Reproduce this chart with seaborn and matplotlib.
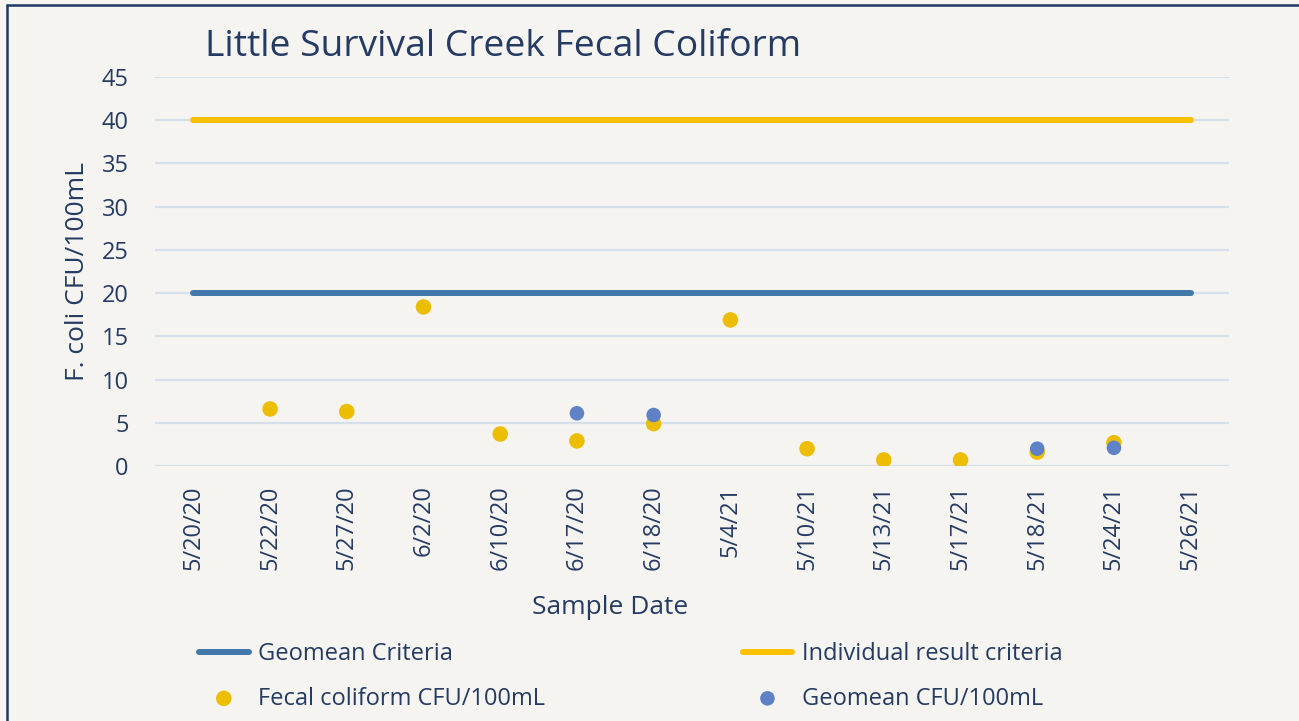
import numpy as np
import pandas as pd
import matplotlib
matplotlib.use("Agg")
import matplotlib.pyplot as plt
from matplotlib.lines import Line2D
import seaborn as sns

dates = ["5/20/20", "5/22/20", "5/27/20", "6/2/20", "6/10/20", "6/17/20", "6/18/20",
         "5/4/21", "5/10/21", "5/13/21", "5/17/21", "5/18/21", "5/24/21", "5/26/21"]
geomean_criteria = [20] * 14
individual_criteria = [40] * 14
fecal = [np.nan, 6.6, 6.3, 18.4, 3.7, 2.9, 4.9, 16.9, 2.0, 0.7, 0.7, 1.6, 2.7, np.nan]
geomean = [np.nan, np.nan, np.nan, np.nan, np.nan, 6.1, 5.9, np.nan, np.nan, np.nan, np.nan, 2.0, 2.1, np.nan]

df = pd.DataFrame({"date": dates, "geo_crit": geomean_criteria, "ind_crit": individual_criteria,
                   "fecal": fecal, "geomean": geomean})

BG = "#F5F4F0"
NAVY = "#253B63"
sns.set_theme(style="white")
plt.rcParams["font.family"] = ["Open Sans", "DejaVu Sans"]

fig = plt.figure(figsize=(12.99, 7.21), dpi=100, facecolor=BG)
W, H = 1299, 721
ax = fig.add_axes([155 / W, 1 - 466 / H, (1229 - 155) / W, (466 - 77) / H])
ax.set_facecolor(BG)

sns.lineplot(data=df, x="date", y="geo_crit", ax=ax, sort=False, color="#4177A9",
             linewidth=4.3, solid_capstyle="round", label="Geomean Criteria", zorder=3)
sns.lineplot(data=df, x="date", y="ind_crit", ax=ax, sort=False, color="#FFC000",
             linewidth=4.3, solid_capstyle="round", label="Individual result criteria", zorder=3)
sns.scatterplot(data=df, x="date", y="fecal", ax=ax, color="#EDBE00", s=125,
                edgecolor="none", label="Fecal coliform CFU/100mL", zorder=4)
sns.scatterplot(data=df, x="date", y="geomean", ax=ax, color="#5F82C6", s=110,
                edgecolor="none", label="Geomean CFU/100mL", zorder=5)

ax.set_xlim(-0.5, len(dates) - 0.5)
ax.set_ylim(0, 45)
ax.set_yticks(range(0, 46, 5))
ax.set_xticks(range(len(dates)))
ax.set_xticklabels(dates, rotation=90)
ax.grid(axis="y", color="#D6DFEC", linewidth=1.6)
ax.grid(axis="x", visible=False)
ax.set_axisbelow(True)
for s in ax.spines.values():
    s.set_visible(False)
ax.tick_params(axis="y", length=0, pad=19, labelsize=17, labelcolor=NAVY)
ax.tick_params(axis="x", length=0, pad=14, labelsize=17, labelcolor=NAVY)
ax.set_xlabel("")
ax.set_ylabel("")

handles, labels = ax.get_legend_handles_labels()
ax.get_legend().remove()
order = [0, 2, 1, 3]
leg = fig.legend([handles[i] for i in order], [labels[i] for i in order],
                 ncol=2, loc="upper left", bbox_to_anchor=(199 / W, 1 - 642 / H),
                 frameon=False, fontsize=17, handlelength=2.1, handletextpad=0.42,
                 columnspacing=8.35, labelspacing=0.87, borderpad=0, borderaxespad=0)
for t in leg.get_texts():
    t.set_color(NAVY)

fig.text(205 / W, 1 - 47 / H, "Little Survival Creek Fecal Coliform", fontsize=26.8,
         color=NAVY, ha="left", va="center")
fig.text(78 / W, 1 - 271 / H, "F. coli CFU/100mL", fontsize=19, color=NAVY,
         rotation=90, ha="center", va="center")
fig.text(610 / W, 1 - 607 / H, "Sample Date", fontsize=19, color=NAVY,
         ha="center", va="center")

fig.add_artist(Line2D([7 / W, 7 / W], [0, 1 - 4.5 / H], transform=fig.transFigure,
                      color="#1F3864", linewidth=1.8))
fig.add_artist(Line2D([7 / W, 1], [1 - 4.5 / H, 1 - 4.5 / H], transform=fig.transFigure,
                      color="#1F3864", linewidth=1.8))

fig.savefig("out.png", dpi=100, facecolor=BG)
